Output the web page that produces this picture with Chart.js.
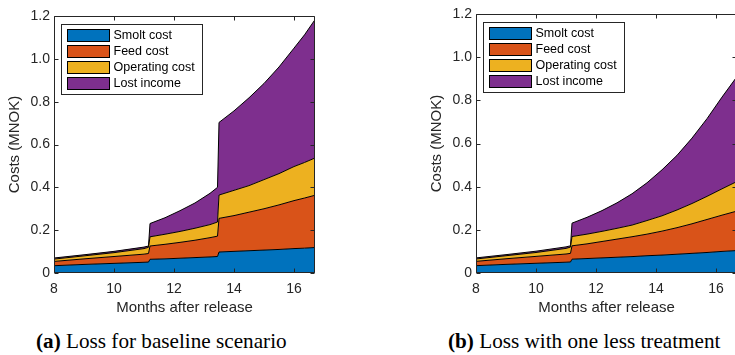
<!DOCTYPE html>
<html>
<head>
<meta charset="utf-8">
<script src="https://cdn.jsdelivr.net/npm/chart.js@4.4.1/dist/chart.umd.min.js"></script>
<style>
  html, body { margin: 0; padding: 0; width: 735px; height: 355px; overflow: hidden; background: #fff; }
  canvas { position: absolute; top: 0; }
  .cap { position: absolute; top: 331px; font-family: "Liberation Serif", "Times New Roman", serif;
         font-size: 21.2px; line-height: 20.5px; white-space: nowrap; color: #000; }
</style>
</head>
<body>
<canvas id="chartA" width="330" height="320" style="left:0px"></canvas>
<canvas id="chartB" width="330" height="320" style="left:422px"></canvas>
<div class="cap" id="capA" style="left:36px"></div>
<div class="cap" id="capB" style="left:448px"></div>

<script>
// series names + colours (MATLAB defaults)
const seriesNames = ["Smolt cost", "Feed cost", "Operating cost", "Lost income"];
const seriesColors = ["#0072BD", "#D95319", "#EDB120", "#7E2F8E"];

// (a) baseline scenario
const monthsA = [8, 9, 10, 11, 11.15, 11.2, 11.7, 12.2, 12.7, 13.2, 13.45, 13.5, 14, 14.5, 15, 15.5, 16, 16.35, 16.7];
const smoltA = [0.034, 0.040, 0.045, 0.050, 0.051, 0.064, 0.066, 0.069, 0.072, 0.075, 0.077, 0.098, 0.101, 0.104, 0.107, 0.110, 0.114, 0.116, 0.119];
const feedA = [0.020, 0.026, 0.032, 0.038, 0.040, 0.062, 0.068, 0.074, 0.081, 0.090, 0.095, 0.157, 0.167, 0.180, 0.193, 0.208, 0.224, 0.234, 0.244];
const operatingA = [0.011, 0.014, 0.018, 0.026, 0.029, 0.043, 0.047, 0.051, 0.056, 0.061, 0.066, 0.109, 0.118, 0.124, 0.136, 0.146, 0.159, 0.166, 0.174];
const lostA = [0.005, 0.005, 0.006, 0.007, 0.006, 0.062, 0.077, 0.097, 0.118, 0.146, 0.162, 0.339, 0.371, 0.410, 0.449, 0.498, 0.553, 0.596, 0.646];

// (b) one less treatment
const monthsB = [8, 9, 10, 11, 11.15, 11.2, 11.7, 12.2, 12.7, 13.2, 13.7, 14.2, 14.7, 15.2, 15.7, 16.2, 16.7];
const smoltB = [0.034, 0.040, 0.045, 0.050, 0.051, 0.064, 0.067, 0.070, 0.073, 0.076, 0.080, 0.083, 0.087, 0.091, 0.095, 0.100, 0.104];
const feedB = [0.020, 0.026, 0.032, 0.038, 0.040, 0.062, 0.068, 0.076, 0.084, 0.092, 0.100, 0.111, 0.123, 0.137, 0.153, 0.168, 0.183];
const operatingB = [0.011, 0.014, 0.018, 0.026, 0.029, 0.043, 0.045, 0.047, 0.050, 0.054, 0.063, 0.071, 0.082, 0.094, 0.107, 0.122, 0.137];
const lostB = [0.005, 0.005, 0.006, 0.007, 0.006, 0.062, 0.078, 0.096, 0.118, 0.145, 0.175, 0.213, 0.253, 0.303, 0.360, 0.425, 0.486];

const xTicks = [8, 10, 12, 14, 16];
const yTicks = [0, 0.2, 0.4, 0.6, 0.8, 1, 1.2];
const xMin = 8, xMax = 16.7;

const captionA = ["(a)", " Loss for baseline scenario"];
const captionB = ["(b)", " Loss with one less treatment"];

const axisColor = "#262626";
const sansFont = "'Liberation Sans', Arial, Helvetica, sans-serif";
Chart.defaults.font.family = sansFont;
Chart.defaults.color = axisColor;

// box around plot + inward tick marks (matlab style)
const matlabAxes = {
  id: "matlabAxes",
  afterDraw(chart) {
    const { ctx, chartArea: a, scales } = chart;
    const len = 4;
    const L = Math.round(a.left) + 0.5, R = Math.round(a.right) - 0.5;
    const T = Math.round(a.top) + 0.5, B = Math.round(a.bottom) - 0.5;
    ctx.save();
    ctx.strokeStyle = axisColor;
    ctx.lineWidth = 1;
    ctx.beginPath();
    ctx.moveTo(L, T); ctx.lineTo(R, T); ctx.lineTo(R, B); ctx.lineTo(L, B); ctx.closePath();
    scales.x.ticks.forEach(t => {
      const px = Math.round(scales.x.getPixelForValue(t.value)) + 0.5;
      ctx.moveTo(px, B); ctx.lineTo(px, B - len);
      ctx.moveTo(px, T); ctx.lineTo(px, T + len);
    });
    scales.y.ticks.forEach(t => {
      const py = Math.round(scales.y.getPixelForValue(t.value)) + 0.5;
      ctx.moveTo(L, py); ctx.lineTo(L + len, py);
      ctx.moveTo(R, py); ctx.lineTo(R - len, py);
    });
    ctx.stroke();
    ctx.restore();
  }
};

// legend box in upper-left corner
const boxLegend = {
  id: "boxLegend",
  afterDraw(chart) {
    const { ctx, chartArea: a } = chart;
    const x0 = Math.round(a.left + 7) + 0.5, y0 = Math.round(a.top + 8) + 0.5;
    ctx.save();
    ctx.fillStyle = "#fff";
    ctx.fillRect(x0, y0, 141, 70);
    ctx.strokeStyle = axisColor;
    ctx.lineWidth = 1;
    ctx.strokeRect(x0, y0, 141, 70);
    ctx.font = "12.5px " + sansFont;
    ctx.textBaseline = "middle";
    chart.data.datasets.forEach((ds, i) => {
      const py = y0 + 5 + i * 16;
      ctx.fillStyle = ds.backgroundColor;
      ctx.fillRect(x0 + 6, py, 42, 12);
      ctx.strokeStyle = "#000";
      ctx.strokeRect(x0 + 6, py, 42, 12);
      ctx.fillStyle = "#000";
      ctx.fillText(ds.label, x0 + 52, py + 6.5);
    });
    ctx.restore();
  }
};

function makeDatasets(months, cols) {
  return cols.map((vals, i) => ({
    label: seriesNames[i],
    data: months.map((m, k) => ({ x: m, y: vals[k] })),
    backgroundColor: seriesColors[i],
    borderColor: "#000",
    borderWidth: 1,
    pointRadius: 0,
    tension: 0,
    fill: i === 0 ? "origin" : "-1"
  }));
}

function makeChart(id, months, cols, topPad) {
  const ctx = document.getElementById(id).getContext("2d");
  return new Chart(ctx, {
    type: "line",
    data: { datasets: makeDatasets(months, cols) },
    options: {
      responsive: false,
      animation: false,
      devicePixelRatio: 1,
      layout: { padding: { left: 0, right: 15, top: topPad, bottom: 0 } },
      plugins: { legend: { display: false }, tooltip: { enabled: false } },
      scales: {
        x: {
          type: "linear",
          min: xMin, max: xMax,
          grid: { display: false, drawTicks: false },
          border: { display: false },
          afterBuildTicks: s => { s.ticks = xTicks.map(v => ({ value: v })); },
          afterFit: s => { s.height = 47; },
          ticks: { font: { size: 14 }, padding: 8, maxRotation: 0 },
          title: { display: true, text: "Months after release", font: { size: 15 }, padding: { top: 0, bottom: 3 } }
        },
        y: {
          stacked: true,
          min: 0, max: 1.2,
          grid: { display: false, drawTicks: false },
          border: { display: false },
          afterBuildTicks: s => { s.ticks = yTicks.map(v => ({ value: v })); },
          afterFit: s => { s.width = 54; },
          ticks: { font: { size: 14 }, padding: 4 },
          title: { display: true, text: "Costs (MNOK)", font: { size: 15 }, padding: { top: 6, bottom: 0 } }
        }
      }
    },
    plugins: [matlabAxes, boxLegend]
  });
}

makeChart("chartA", monthsA, [smoltA, feedA, operatingA, lostA], 16);
makeChart("chartB", monthsB, [smoltB, feedB, operatingB, lostB], 14);

function setCaption(id, parts) {
  const el = document.getElementById(id);
  const b = document.createElement("b");
  b.textContent = parts[0];
  el.appendChild(b);
  el.appendChild(document.createTextNode(parts[1]));
}
setCaption("capA", captionA);
setCaption("capB", captionB);
</script>
</body>
</html>
